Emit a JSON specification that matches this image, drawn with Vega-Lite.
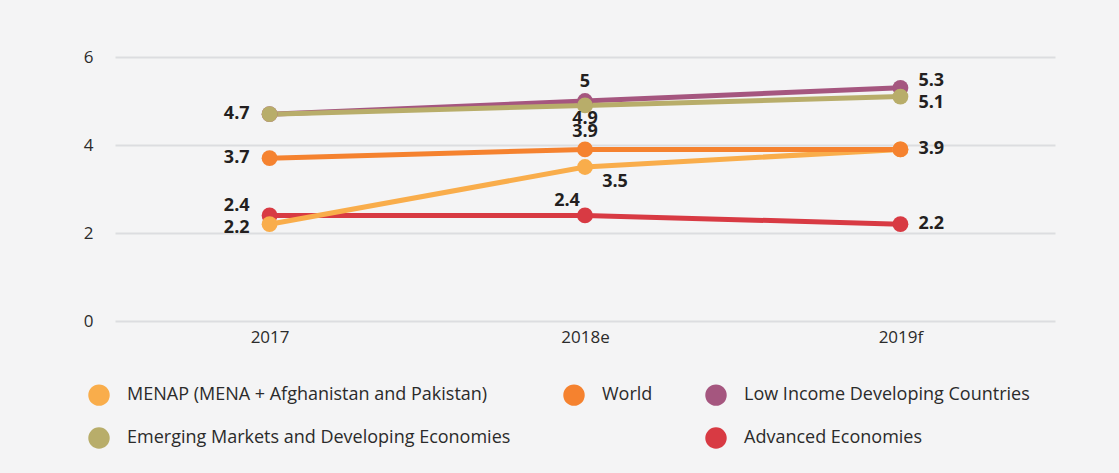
{
  "$schema": "https://vega.github.io/schema/vega-lite/v6.json",
  "width": 940,
  "height": 264,
  "autosize": {"type": "none"},
  "padding": {"left": 115, "top": 57, "right": 64, "bottom": 152},
  "background": "#f4f4f5",
  "config": {
    "view": {"stroke": null},
    "font": "Open Sans",
    "axis": {"labelFont": "Open Sans", "labelColor": "#2b2b2b", "labelFontSize": 17, "domain": false, "ticks": false, "title": null},
    "legend": {"labelFont": "Open Sans", "labelColor": "#2b2b2b", "labelFontSize": 18, "labelLimit": 600}
  },
  "data": {
    "values": [
      {"series": "Advanced Economies", "year": "2017", "value": 2.4},
      {"series": "Advanced Economies", "year": "2018e", "value": 2.4},
      {"series": "Advanced Economies", "year": "2019f", "value": 2.2},
      {"series": "MENAP (MENA + Afghanistan and Pakistan)", "year": "2017", "value": 2.2},
      {"series": "MENAP (MENA + Afghanistan and Pakistan)", "year": "2018e", "value": 3.5},
      {"series": "MENAP (MENA + Afghanistan and Pakistan)", "year": "2019f", "value": 3.9},
      {"series": "Low Income Developing Countries", "year": "2017", "value": 4.7},
      {"series": "Low Income Developing Countries", "year": "2018e", "value": 5.0},
      {"series": "Low Income Developing Countries", "year": "2019f", "value": 5.3},
      {"series": "Emerging Markets and Developing Economies", "year": "2017", "value": 4.7},
      {"series": "Emerging Markets and Developing Economies", "year": "2018e", "value": 4.9},
      {"series": "Emerging Markets and Developing Economies", "year": "2019f", "value": 5.1},
      {"series": "World", "year": "2017", "value": 3.7},
      {"series": "World", "year": "2018e", "value": 3.9},
      {"series": "World", "year": "2019f", "value": 3.9}
    ]
  },
  "encoding": {
    "x": {
      "field": "year", "type": "ordinal",
      "scale": {"type": "point", "padding": 0.49},
      "axis": {"labelAngle": 0, "labelPadding": 8, "grid": false}
    },
    "y": {
      "field": "value", "type": "quantitative",
      "scale": {"domain": [0, 6], "nice": false},
      "axis": {"values": [0, 2, 4, 6], "labelPadding": 22, "gridColor": "#dcdde0", "gridWidth": 2, "labelAlign": "right"}
    }
  },
  "layer": [
    {
      "mark": {"type": "line", "strokeWidth": 5},
      "encoding": {
        "color": {
          "field": "series", "type": "nominal",
          "scale": {
            "domain": ["MENAP (MENA + Afghanistan and Pakistan)", "Emerging Markets and Developing Economies", "World", " ", "Low Income Developing Countries", "Advanced Economies"],
            "range": ["#f9ad4b", "#b8ad6a", "#f5822f", "transparent", "#a5567f", "#d83a43"]
          },
          "legend": {
            "title": null, "orient": "none", "legendX": -27, "legendY": 327,
            "columns": 3, "columnPadding": 52, "rowPadding": 21,
            "symbolType": "circle", "symbolSize": 460, "symbolStrokeWidth": 0,
            "symbolOpacity": 1, "labelOffset": 17, "padding": 0,
            "encode": {"symbols": {"update": {"fill": {"scale": "color", "field": "value"}, "strokeWidth": {"value": 0}}}}
          }
        }
      }
    },
    {
      "mark": {"type": "circle", "size": 250, "opacity": 1},
      "encoding": {
        "color": {
          "field": "series", "type": "nominal",
          "legend": {
            "title": null, "orient": "none", "legendX": -27, "legendY": 327,
            "columns": 3, "columnPadding": 52, "rowPadding": 21,
            "symbolType": "circle", "symbolSize": 460, "symbolStrokeWidth": 0,
            "symbolOpacity": 1, "labelOffset": 17, "padding": 0,
            "encode": {"symbols": {"update": {"fill": {"scale": "color", "field": "value"}, "strokeWidth": {"value": 0}}}}
          }
        }
      }
    },
    {
      "transform": [{"filter": "datum.year == '2017' && (datum.series == 'World' || datum.series == 'Emerging Markets and Developing Economies')"}],
      "mark": {"type": "text", "align": "right", "dx": -20, "dy": 0, "fontWeight": "bold", "fontSize": 18, "color": "#231f20"},
      "encoding": {"text": {"field": "value", "format": ".1f"}}
    },
    {
      "transform": [{"filter": "datum.year == '2017' && datum.series == 'Advanced Economies'"}],
      "mark": {"type": "text", "align": "right", "dx": -20, "dy": -9, "fontWeight": "bold", "fontSize": 18, "color": "#231f20"},
      "encoding": {"text": {"field": "value", "format": ".1f"}}
    },
    {
      "transform": [{"filter": "datum.year == '2017' && datum.series == 'MENAP (MENA + Afghanistan and Pakistan)'"}],
      "mark": {"type": "text", "align": "right", "dx": -20, "dy": 4, "fontWeight": "bold", "fontSize": 18, "color": "#231f20"},
      "encoding": {"text": {"field": "value", "format": ".1f"}}
    },
    {
      "transform": [{"filter": "datum.year == '2018e' && datum.series == 'Low Income Developing Countries'"}],
      "mark": {"type": "text", "align": "center", "dx": 0, "dy": -19, "fontWeight": "bold", "fontSize": 18, "color": "#231f20"},
      "encoding": {"text": {"field": "value", "format": ".2"}}
    },
    {
      "transform": [{"filter": "datum.year == '2018e' && datum.series == 'Emerging Markets and Developing Economies'"}],
      "mark": {"type": "text", "align": "center", "dx": 0, "dy": 14, "fontWeight": "bold", "fontSize": 18, "color": "#231f20"},
      "encoding": {"text": {"field": "value", "format": ".1f"}}
    },
    {
      "transform": [{"filter": "datum.year == '2018e' && datum.series == 'World'"}],
      "mark": {"type": "text", "align": "center", "dx": 0, "dy": -17, "fontWeight": "bold", "fontSize": 18, "color": "#231f20"},
      "encoding": {"text": {"field": "value", "format": ".1f"}}
    },
    {
      "transform": [{"filter": "datum.year == '2018e' && datum.series == 'MENAP (MENA + Afghanistan and Pakistan)'"}],
      "mark": {"type": "text", "align": "center", "dx": 30, "dy": 15, "fontWeight": "bold", "fontSize": 18, "color": "#231f20"},
      "encoding": {"text": {"field": "value", "format": ".1f"}}
    },
    {
      "transform": [{"filter": "datum.year == '2018e' && datum.series == 'Advanced Economies'"}],
      "mark": {"type": "text", "align": "center", "dx": -18, "dy": -14, "fontWeight": "bold", "fontSize": 18, "color": "#231f20"},
      "encoding": {"text": {"field": "value", "format": ".1f"}}
    },
    {
      "transform": [{"filter": "datum.year == '2019f' && datum.series == 'Low Income Developing Countries'"}],
      "mark": {"type": "text", "align": "left", "dx": 18, "dy": -7, "fontWeight": "bold", "fontSize": 18, "color": "#231f20"},
      "encoding": {"text": {"field": "value", "format": ".1f"}}
    },
    {
      "transform": [{"filter": "datum.year == '2019f' && datum.series == 'Emerging Markets and Developing Economies'"}],
      "mark": {"type": "text", "align": "left", "dx": 18, "dy": 6, "fontWeight": "bold", "fontSize": 18, "color": "#231f20"},
      "encoding": {"text": {"field": "value", "format": ".1f"}}
    },
    {
      "transform": [{"filter": "datum.year == '2019f' && (datum.series == 'World' || datum.series == 'Advanced Economies')"}],
      "mark": {"type": "text", "align": "left", "dx": 18, "dy": 0, "fontWeight": "bold", "fontSize": 18, "color": "#231f20"},
      "encoding": {"text": {"field": "value", "format": ".1f"}}
    }
  ]
}
